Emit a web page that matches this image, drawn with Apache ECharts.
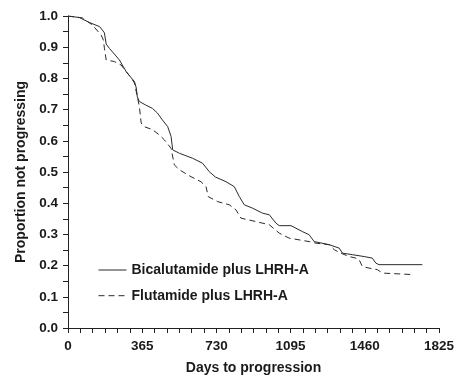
<!DOCTYPE html>
<html>
<head>
<meta charset="utf-8">
<script src="https://cdn.jsdelivr.net/npm/echarts@6/dist/echarts.min.js"></script>
<style>
html,body{margin:0;padding:0;background:#fff;}
#chart{width:468px;height:382px;}
</style>
</head>
<body>
<div id="chart"></div>
<script>
var seriesNames = ['Bicalutamide plus LHRH-A', 'Flutamide plus LHRH-A'];
var xTicks = [0, 365, 730, 1095, 1460, 1825];
var yTicks = [0.0, 0.1, 0.2, 0.3, 0.4, 0.5, 0.6, 0.7, 0.8, 0.9, 1.0];

var bicDays = [0, 56, 106, 155, 169, 179, 188, 204, 228, 253, 286, 307, 327, 336, 341, 351, 381, 415, 440, 464, 490, 507, 515, 548, 613, 662, 695, 725, 777, 818, 843, 867, 908, 957, 990, 1023, 1039, 1097, 1153, 1186, 1211, 1285, 1334, 1350, 1399, 1457, 1497, 1514, 1530, 1743];
var bicSurv = [1.0, 0.995, 0.979, 0.966, 0.955, 0.946, 0.91, 0.896, 0.878, 0.859, 0.822, 0.805, 0.79, 0.769, 0.741, 0.726, 0.715, 0.704, 0.689, 0.667, 0.646, 0.614, 0.571, 0.56, 0.544, 0.528, 0.501, 0.484, 0.469, 0.453, 0.421, 0.395, 0.384, 0.368, 0.363, 0.336, 0.328, 0.328, 0.309, 0.299, 0.277, 0.267, 0.256, 0.24, 0.235, 0.229, 0.224, 0.208, 0.203, 0.203];

var fluDays = [0, 71, 120, 163, 174, 179, 188, 228, 261, 286, 307, 327, 341, 351, 360, 376, 415, 449, 474, 507, 523, 548, 605, 654, 679, 690, 736, 793, 826, 851, 925, 990, 1039, 1088, 1186, 1219, 1285, 1310, 1342, 1383, 1416, 1432, 1448, 1481, 1522, 1547, 1555, 1702];
var fluSurv = [1.0, 0.994, 0.971, 0.939, 0.923, 0.897, 0.859, 0.854, 0.843, 0.822, 0.805, 0.785, 0.741, 0.71, 0.657, 0.645, 0.636, 0.619, 0.603, 0.576, 0.523, 0.507, 0.485, 0.469, 0.453, 0.421, 0.405, 0.395, 0.379, 0.352, 0.341, 0.331, 0.304, 0.288, 0.277, 0.272, 0.267, 0.251, 0.24, 0.229, 0.224, 0.219, 0.197, 0.192, 0.187, 0.176, 0.171, 0.171];

function zip(a, b) { return a.map(function (v, i) { return [v, b[i]]; }); }

var FONT = '"Liberation Sans", Arial, Helvetica, sans-serif';
var TXT = '#1a1a1a';

var chart = echarts.init(document.getElementById('chart'), null, {renderer: 'canvas'});
chart.setOption({
  animation: false,
  backgroundColor: '#fff',
  grid: {left: 68, right: 29, top: 16, bottom: 54, containLabel: false},
  legend: {
    orient: 'vertical',
    left: 93,
    top: 258,
    itemWidth: 28,
    itemHeight: 14,
    itemGap: 11.7,
    data: seriesNames,
    itemStyle: {opacity: 0},
    lineStyle: {width: 1},
    textStyle: {fontFamily: FONT, fontWeight: 700, fontSize: 14, color: TXT}
  },
  xAxis: {
    type: 'value',
    min: xTicks[0],
    max: xTicks[xTicks.length - 1],
    interval: 365,
    name: 'Days to progression',
    nameLocation: 'middle',
    nameGap: 33,
    nameTextStyle: {fontFamily: FONT, fontWeight: 700, fontSize: 14, color: TXT},
    axisLine: {show: true, onZero: false, lineStyle: {color: '#222', width: 1}},
    axisTick: {show: true, length: 5, lineStyle: {color: '#222'}},
    minorTick: {show: true, splitNumber: 6, length: 5, lineStyle: {color: '#222'}},
    splitLine: {show: false},
    axisLabel: {
      margin: 11, fontFamily: FONT, fontWeight: 700, fontSize: 13.5, color: TXT,
      formatter: function (v) { return String(v); }
    }
  },
  yAxis: {
    type: 'value',
    min: 0,
    max: 1,
    interval: 0.1,
    name: 'Proportion not progressing',
    nameLocation: 'middle',
    nameGap: 37,
    nameTextStyle: {fontFamily: FONT, fontWeight: 700, fontSize: 14, color: TXT},
    axisLine: {show: true, lineStyle: {color: '#222', width: 1}},
    axisTick: {show: true, length: 5, lineStyle: {color: '#222'}},
    minorTick: {show: true, splitNumber: 2, length: 5, lineStyle: {color: '#222'}},
    splitLine: {show: false},
    axisLabel: {
      margin: 10, fontFamily: FONT, fontWeight: 700, fontSize: 13.5, color: TXT,
      formatter: function (v) { return v.toFixed(1); }
    }
  },
  series: [
    {
      name: seriesNames[0],
      type: 'line',
      data: zip(bicDays, bicSurv),
      showSymbol: false,
      symbol: 'none',
      lineStyle: {color: '#2a2a2a', width: 1, type: 'solid'},
      itemStyle: {color: '#2a2a2a'}
    },
    {
      name: seriesNames[1],
      type: 'line',
      data: zip(fluDays, fluSurv),
      showSymbol: false,
      symbol: 'none',
      lineStyle: {color: '#2a2a2a', width: 1, type: [6, 4]},
      itemStyle: {color: '#2a2a2a'}
    }
  ]
});
</script>
</body>
</html>
